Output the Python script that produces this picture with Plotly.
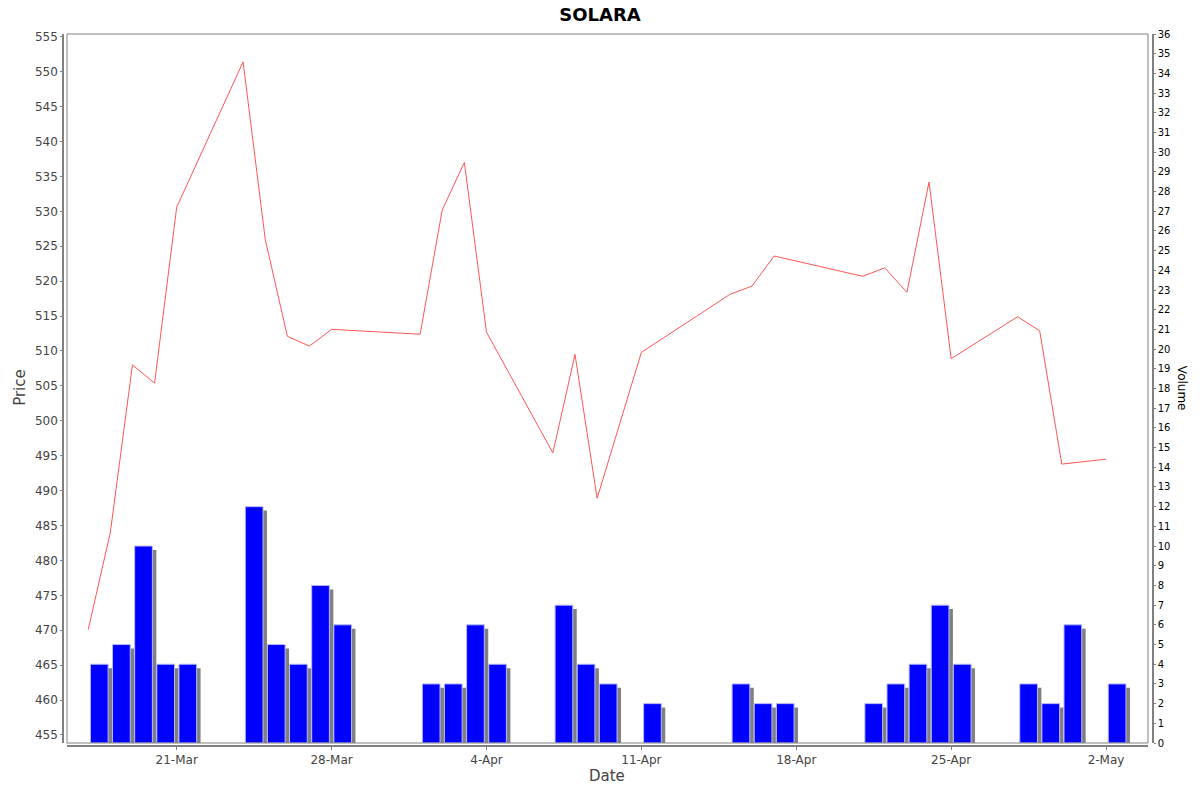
import pandas as pd
import plotly.graph_objects as go

# trading days, close price and volume
dates = ["2025-03-17", "2025-03-18", "2025-03-19", "2025-03-20", "2025-03-21",
         "2025-03-24", "2025-03-25", "2025-03-26", "2025-03-27", "2025-03-28",
         "2025-04-01", "2025-04-02", "2025-04-03", "2025-04-04",
         "2025-04-07", "2025-04-08", "2025-04-09", "2025-04-11",
         "2025-04-15", "2025-04-16", "2025-04-17",
         "2025-04-21", "2025-04-22", "2025-04-23", "2025-04-24", "2025-04-25",
         "2025-04-28", "2025-04-29", "2025-04-30", "2025-05-02"]
price = [470.1, 484.0, 508.0, 505.4, 530.6,
         551.4, 526.0, 512.1, 510.7, 513.1,
         512.4, 530.2, 537.0, 512.7,
         495.4, 509.5, 488.9, 509.8,
         518.1, 519.3, 523.6,
         520.7, 521.9, 518.4, 534.2, 508.9,
         514.9, 512.9, 493.8, 494.5]
volume = [4, 5, 10, 4, 4,
          12, 5, 4, 8, 6,
          3, 3, 6, 4,
          7, 4, 3, 2,
          3, 2, 2,
          2, 3, 4, 7, 4,
          3, 2, 6, 3]

day_ms = 86400000
d = pd.to_datetime(dates)
bar_x = d + pd.Timedelta(hours=12)
shadow_x = bar_x + pd.Timedelta(hours=4.3)

fig = go.Figure()

# bar shadows (JFreeChart style), then bars, on the volume axis
fig.add_trace(go.Bar(x=shadow_x, y=volume, base=-0.2, width=0.8 * day_ms,
                     marker=dict(color="#808080", line=dict(width=0)),
                     yaxis="y", showlegend=False, hoverinfo="skip"))
fig.add_trace(go.Bar(x=bar_x, y=volume, width=0.8 * day_ms, name="Volume",
                     marker=dict(color="#0000ff", line=dict(color="#b8b8ff", width=1)),
                     yaxis="y", showlegend=False))
fig.add_trace(go.Scatter(x=d, y=price, mode="lines", name="Price",
                         line=dict(color="#ff5555", width=1),
                         yaxis="y2", showlegend=False))

# the page has an 8px body margin, so the figure is 8px smaller each way
W, H = 1192, 784
axis_grey = "#808080"
fig.update_layout(
    width=W, height=H,
    margin=dict(l=55, r=47, t=26, b=46, autoexpand=False),
    paper_bgcolor="white", plot_bgcolor="white",
    barmode="overlay",
    font=dict(family="DejaVu Sans", color="#444444"),
    title=dict(text="<b>SOLARA</b>", x=592 / W, xref="container", xanchor="center",
               y=1, yref="container", yanchor="top", automargin=False,
               font=dict(family="DejaVu Sans", size=18, color="black")),
    xaxis=dict(type="date", domain=[4 / 1090, 1085 / 1090], automargin=False,
               range=["2025-03-16 01:00", "2025-05-03 21:30"],
               tick0="2025-03-21", dtick=7 * day_ms, tickformat="%-d-%b",
               anchor="free", position=0,
               showgrid=False, zeroline=False,
               showline=True, linecolor=axis_grey, linewidth=1.5,
               ticks="outside", ticklen=3, tickcolor=axis_grey,
               tickfont=dict(size=12, color="#444444")),
    yaxis=dict(domain=[3 / 712, 1], range=[0, 36], dtick=1, automargin=False,
               side="right", anchor="free", position=1,
               showgrid=False, zeroline=False,
               showline=True, linecolor=axis_grey, linewidth=1.5,
               ticks="outside", ticklen=2, tickcolor=axis_grey,
               tickfont=dict(size=10, color="black")),
    yaxis2=dict(overlaying="y", range=[453.85, 555.4], dtick=5, automargin=False,
                side="left", anchor="free", position=0,
                showgrid=False, zeroline=False,
                showline=True, linecolor=axis_grey, linewidth=1.5,
                ticks="outside", ticklen=2, tickcolor=axis_grey,
                tickfont=dict(size=12, color="#444444")),
    shapes=[dict(type="rect", xref="x domain", yref="y domain",
                 x0=0, x1=1, y0=0, y1=1, line=dict(color=axis_grey, width=1))],
    annotations=[
        dict(text="Price", xref="paper", yref="paper", x=-43 / 1090, y=0.503,
             textangle=-90, showarrow=False, xanchor="center", yanchor="middle",
             font=dict(size=15, color="#444444")),
        dict(text="Date", xref="paper", yref="paper", x=544 / 1090, y=-30 / 712,
             showarrow=False, xanchor="center", yanchor="middle",
             font=dict(size=15, color="#444444")),
        dict(text="Volume", xref="paper", yref="paper", x=1119 / 1090, y=0.503,
             textangle=90, showarrow=False, xanchor="center", yanchor="middle",
             font=dict(size=12, color="black")),
    ],
)

fig.write_html("out.html")
